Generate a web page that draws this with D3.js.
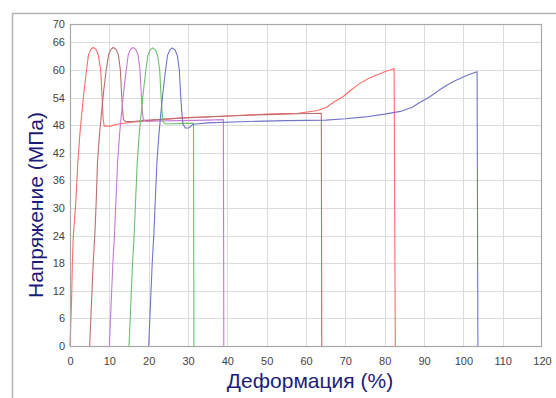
<!DOCTYPE html>
<html><head><meta charset="utf-8">
<script src="https://cdn.jsdelivr.net/npm/d3@7"></script>
<style>html,body{margin:0;padding:0;background:#fff;}svg{display:block;}</style>
</head><body>
<svg id="chart" width="556" height="398"></svg>
<script>
const xTicks = [0,10,20,30,40,50,60,70,80,90,100,110,120];
const yTicks = [0,6,12,18,24,30,36,42,48,54,60,66,70];
const xTitle = "Деформация (%)";
const yTitle = "Напряжение (МПа)";

const redStrain = [0,0.4,0.6,0.85,1.45,2.0,2.5,3.0,3.6,4.2,4.7,5.3,5.9,6.6,7.2,7.8,8.2,8.4,8.7,10.2,12,15,20,28,40,50,58,63,65.3,67,69.4,71.5,73.7,76,78,80,81.8,82.4,82.7];
const redStress = [0,10,18,24,31,40,46,50.6,55.7,60,63.3,64.5,64.9,64.5,63.3,60,53.5,49.5,47.8,47.8,48.2,48.6,49.0,49.6,50.0,50.4,50.6,51.2,51.9,53.0,54.2,55.7,57.1,58.2,58.9,59.6,60.1,60.3,0];

const brownStrain = [5,5.3,5.6,5.9,6.3,6.6,7.0,7.5,8.0,8.6,9.2,9.8,10.4,11.0,11.7,12.3,12.8,13.1,13.4,13.6,14.1,16,20,28,40,50,58,63.9,64.0];
const brownStress = [0,6,12,18,24,30,40,46,50.6,55.7,60,63.3,64.5,64.9,64.5,63.3,60,55,51,49.2,48.8,48.8,49.1,49.5,50.0,50.3,50.5,50.6,0];

const purpleStrain = [10,10.3,10.6,10.9,11.3,11.6,12.1,12.6,13.1,13.7,14.3,14.8,15.4,16.0,16.7,17.3,17.8,18.1,18.4,18.6,19.4,22,28,35,39.0,39.1];
const purpleStress = [0,6,12,18,24,30,40,46,50.6,55.7,60,63.3,64.5,64.9,64.5,63.3,60,55,51,49.3,48.8,48.9,49.0,49.1,49.2,0];

const greenStrain = [15,15.3,15.6,15.9,16.3,16.6,17.1,17.6,18.1,18.7,19.3,19.8,20.4,21.0,21.7,22.3,22.8,23.1,23.4,23.6,24.2,26,29,31.4,31.5];
const greenStress = [0,6,12,18,24,30,40,46,50.6,55.7,60,63.2,64.4,64.8,64.4,63.1,60,55,51,48.8,48.3,48.3,48.4,48.4,0];

const blueStrain = [20,20.3,20.6,20.9,21.3,21.6,22.1,22.6,23.1,23.7,24.3,24.8,25.4,26.0,26.7,27.3,27.8,28.1,28.4,28.7,29.3,30.2,31.3,35,45,55,65,70,75,80,84,87,89,91.5,94,96,98,100,102,103.5,103.7];
const blueStress = [0,6,12,18,24,30,40,46,50.6,55.7,60,63.2,64.4,64.8,64.4,63.1,60,55,51,48.3,47.4,47.4,48.2,48.5,48.8,49.0,49.1,49.4,49.8,50.4,51.0,51.9,53.0,54.2,55.7,56.8,57.7,58.5,59.2,59.6,0];

const seriesNames = ["red","brown","purple","green","blue"];
const seriesColors = ["#ff6b6b","#bb6f6f","#c47ad6","#6cbf6c","#7373c9"];
const seriesStrain = [redStrain,brownStrain,purpleStrain,greenStrain,blueStrain];
const seriesStress = [redStress,brownStress,purpleStress,greenStress,blueStress];

const svg = d3.select("#chart");
const L = 70, R = 542, T = 24, B = 346;
const x = d3.scaleLinear().domain([0,120]).range([L,R]);
const y = d3.scaleLinear().domain([0,70]).range([B,T]);

// outer frame
svg.append("rect").attr("x",12.5).attr("y",13.5).attr("width",600).attr("height",500)
  .attr("fill","none").attr("stroke","#b4b4b4").attr("stroke-width",1.5);

// grid
svg.append("g").selectAll("line").data(xTicks.slice(1,-1)).join("line")
  .attr("x1",d=>Math.round(x(d))+0.5).attr("x2",d=>Math.round(x(d))+0.5)
  .attr("y1",T).attr("y2",B).attr("stroke","#dcdcdc").attr("stroke-width",1);
svg.append("g").selectAll("line").data(yTicks.slice(1,-1)).join("line")
  .attr("y1",d=>Math.round(y(d))+0.5).attr("y2",d=>Math.round(y(d))+0.5)
  .attr("x1",L).attr("x2",R).attr("stroke","#dcdcdc").attr("stroke-width",1);

// axes (labels only)
const xAxis = d3.axisBottom(x).tickValues(xTicks).tickSize(0).tickPadding(11);
const gx = svg.append("g").attr("transform",`translate(0,${B})`).call(xAxis);
const yAxis = d3.axisLeft(y).tickValues(yTicks).tickSize(0).tickPadding(5);
const gy = svg.append("g").attr("transform",`translate(${L},0)`).call(yAxis);
[gx,gy].forEach(g=>{
  g.select(".domain").remove();
  g.selectAll("text").attr("fill","#444").style("font-family","Liberation Sans, Arial, sans-serif").style("font-size","11px");
});

// lines
const line = d3.line().x(d=>x(d[0])).y(d=>y(d[1]));
seriesNames.forEach((n,i)=>{
  const pts = seriesStrain[i].map((s,j)=>[s,seriesStress[i][j]]);
  svg.append("path").datum(pts).attr("d",line).attr("fill","none")
    .attr("stroke",seriesColors[i]).attr("stroke-width",1.1);
});

// plot border
svg.append("rect").attr("x",L+0.5).attr("y",T+0.5).attr("width",R-L-1).attr("height",B-T)
  .attr("fill","none").attr("stroke","#a8a8a8").attr("stroke-width",1.2);

// titles
svg.append("text").attr("x",310).attr("y",388).attr("text-anchor","middle")
  .style("font-family","Liberation Sans, Arial, sans-serif").style("font-size","21px")
  .attr("fill","#1c1c78").text(xTitle);
svg.append("text").attr("transform","translate(43,205) rotate(-90)").attr("text-anchor","middle")
  .style("font-family","Liberation Sans, Arial, sans-serif").style("font-size","21px")
  .attr("fill","#1c1c78").text(yTitle);
</script>
</body></html>
